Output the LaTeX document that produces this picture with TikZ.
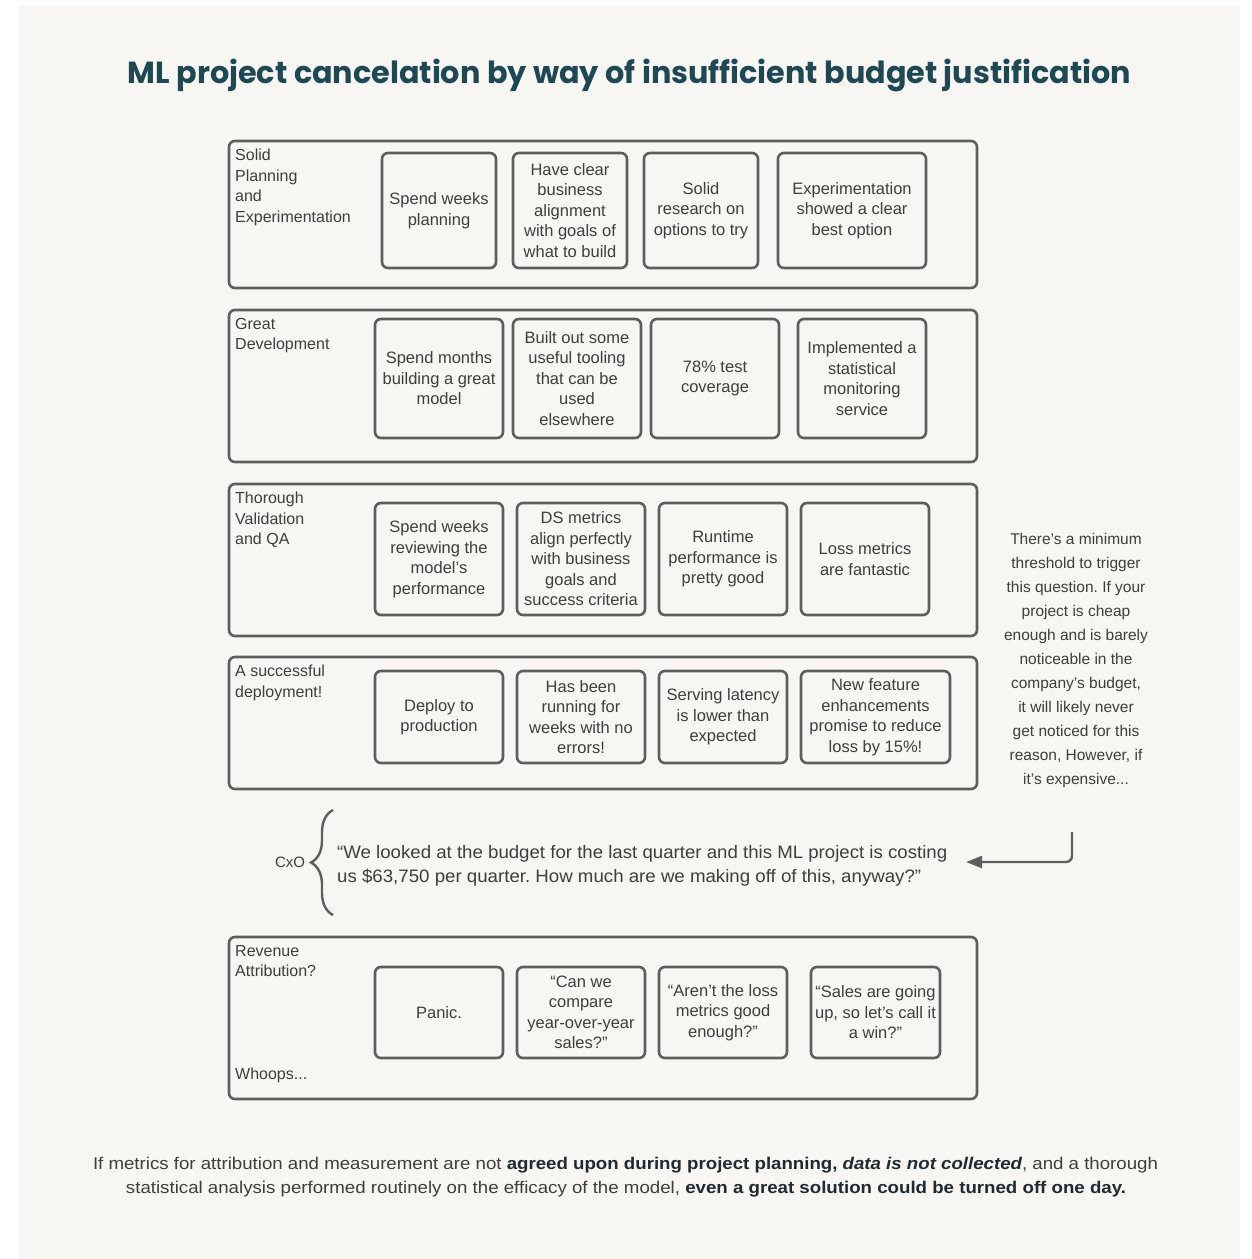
\documentclass[tikz,border=0pt]{standalone}
\usepackage{fontspec}
\usepackage{graphicx}
\setmainfont{Liberation Sans}
\newfontfamily\titlefont{Poppins}
\usetikzlibrary{arrows.meta,decorations.pathreplacing}
\frenchspacing

\definecolor{paper}{HTML}{F7F6F3}
\definecolor{edge}{HTML}{5E5E5E}
\definecolor{ink}{HTML}{3E3E3E}
\definecolor{deepink}{HTML}{1F2B30}
\definecolor{headink}{HTML}{1E4853}

\tikzset{
  lane/.style={draw=edge, line width=2.6pt, rounded corners=6pt, inner sep=0pt},
  card/.style={draw=edge, line width=2.6pt, rounded corners=6pt, align=center,
    text=ink, inner sep=0pt, font=\fontsize{16.5}{20.5}\selectfont},
  lanelabel/.style={anchor=north west, align=left, inner sep=0pt, text=ink,
    font=\fontsize{16}{20.5}\selectfont},
  flow/.style={draw=edge, line width=2.4pt, rounded corners=6pt,
    -{Triangle[length=16pt,width=12pt]}},
}

\begin{document}
\begin{tikzpicture}[x=1pt, y=-1pt]
% page and paper
\fill[white] (0,0) rectangle (1252,1259);
\fill[paper] (18,6) rectangle (1240,1259);
\useasboundingbox (0,0) rectangle (1252,1259);

% title
\node[anchor=base, inner sep=0pt, text=headink] (title) at (629.5,83)
  {\resizebox{1003pt}{\height}{\titlefont\fontsize{30.5}{36}\selectfont\bfseries ML project cancelation by way of insufficient budget justification}};

% lane 1: planning
\node[lane, minimum width=748pt, minimum height=147pt] (lane1) at (603,214.5) {};
\node[lanelabel] (lab1) at (235,149) {Solid\\Planning\\and\\Experimentation};
\node[card, minimum width=114pt, minimum height=115pt] (c11) at (439,210.5) {Spend weeks\\planning};
\node[card, minimum width=114pt, minimum height=115pt] (c12) at (570,210.5) {Have clear\\business\\alignment\\with goals of\\what to build};
\node[card, minimum width=114pt, minimum height=115pt] (c13) at (701,210.5) {Solid\\research on\\options to try};
\node[card, minimum width=148pt, minimum height=115pt] (c14) at (852,210.5) {Experimentation\\showed a clear\\best option};

% lane 2: development
\node[lane, minimum width=748pt, minimum height=152pt] (lane2) at (603,386) {};
\node[lanelabel] (lab2) at (235,318) {Great\\Development};
\node[card, minimum width=128pt, minimum height=119pt] (c21) at (439,378.5) {Spend months\\building a great\\model};
\node[card, minimum width=128pt, minimum height=119pt] (c22) at (577,378.5) {Built out some\\useful tooling\\that can be\\used\\elsewhere};
\node[card, minimum width=128pt, minimum height=119pt] (c23) at (715,378.5) {78\% test\\coverage};
\node[card, minimum width=128pt, minimum height=119pt] (c24) at (862,378.5) {Implemented a\\statistical\\monitoring\\service};

% lane 3: validation
\node[lane, minimum width=748pt, minimum height=152pt] (lane3) at (603,560) {};
\node[lanelabel] (lab3) at (235,492) {Thorough\\Validation\\and QA};
\node[card, minimum width=128pt, minimum height=112pt] (c31) at (439,559) {Spend weeks\\reviewing the\\model's\\performance};
\node[card, minimum width=128pt, minimum height=112pt] (c32) at (581,559) {DS metrics\\align perfectly\\with business\\goals and\\success criteria};
\node[card, minimum width=128pt, minimum height=112pt] (c33) at (723,559) {Runtime\\performance is\\pretty good};
\node[card, minimum width=128pt, minimum height=112pt] (c34) at (865,559) {Loss metrics\\are fantastic};

% lane 4: deployment
\node[lane, minimum width=748pt, minimum height=132pt] (lane4) at (603,723) {};
\node[lanelabel] (lab4) at (235,665) {A successful\\deployment!};
\node[card, minimum width=128pt, minimum height=92pt] (c41) at (439,717) {Deploy to\\production};
\node[card, minimum width=128pt, minimum height=92pt] (c42) at (581,717) {Has been\\running for\\weeks with no\\errors!};
\node[card, minimum width=128pt, minimum height=92pt] (c43) at (723,717) {Serving latency\\is lower than\\expected};
\node[card, minimum width=149pt, minimum height=92pt] (c44) at (875.5,717) {New feature\\enhancements\\promise to reduce\\loss by 15\%!};

% side note and arrow to the question
\node[align=center, inner sep=0pt, text=ink, font=\fontsize{15.5}{24}\selectfont] (note) at (1076,660)
  {There’s a minimum\\threshold to trigger\\this question. If your\\project is cheap\\enough and is barely\\noticeable in the\\company’s budget,\\it will likely never\\get noticed for this\\reason, However, if\\it’s expensive...};

% the executive's question
\node[anchor=west, align=left, inner sep=0pt, text=ink, font=\fontsize{18}{24}\selectfont] (quote) at (337,866)
  {\resizebox{610pt}{\height}{“We looked at the budget for the last quarter and this ML project is costing}\\
   \resizebox{584pt}{\height}{us \$63,750 per quarter. How much are we making off of this, anyway?”}};
\node[inner sep=0pt, text=ink, font=\fontsize{15}{18}\selectfont] (cxo) at (290,862) {CxO};
\coordinate (braceLow) at (333,915);
\coordinate (braceHigh) at (333,810);
\draw[edge, line width=2.4pt, decorate, decoration={brace, amplitude=22pt}] (braceLow) -- (braceHigh);

\coordinate (turn) at (1072,832);
\coordinate (tipEnd) at (966,862);
\draw[flow] (turn) |- (tipEnd);

% lane 5: attribution
\node[lane, minimum width=748pt, minimum height=162pt] (lane5) at (603,1018) {};
\node[lanelabel] (lab5) at (235,945) {Revenue\\Attribution?};
\node[lanelabel, anchor=base west] (lab5b) at (235,1079) {Whoops...};
\node[card, minimum width=128pt, minimum height=91pt] (c51) at (439,1012.5) {Panic.};
\node[card, minimum width=128pt, minimum height=91pt] (c52) at (581,1012.5) {“Can we\\compare\\year-over-year\\sales?”};
\node[card, minimum width=128pt, minimum height=91pt] (c53) at (723,1012.5) {“Aren’t the loss\\metrics good\\enough?”};
\node[card, minimum width=129pt, minimum height=91pt] (c54) at (875.5,1012.5) {“Sales are going\\up, so let’s call it\\a win?”};

% closing remark
\node[anchor=base, inner sep=0pt, text=ink, font=\fontsize{17}{24}\selectfont] (moral1) at (625.5,1169)
  {\resizebox{1065pt}{\height}{If metrics for attribution and measurement are not \textcolor{deepink}{\bfseries agreed upon during project planning, \itshape data is not collected}, and a thorough}};
\node[anchor=base, inner sep=0pt, text=ink, font=\fontsize{17}{24}\selectfont] (moral2) at (626,1193)
  {\resizebox{1000pt}{\height}{statistical analysis performed routinely on the efficacy of the model, \textcolor{deepink}{\bfseries even a great solution could be turned off one day.}}};
\end{tikzpicture}
\end{document}
